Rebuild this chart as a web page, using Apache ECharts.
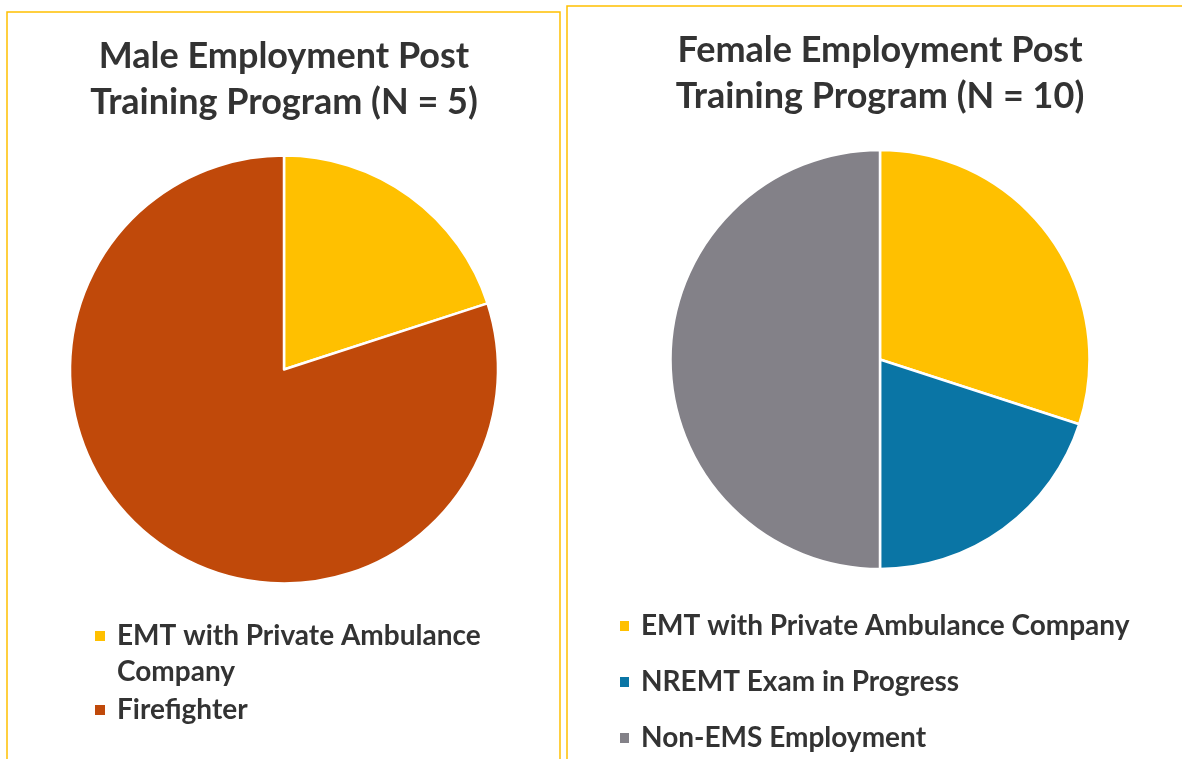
<!DOCTYPE html>
<html>
<head>
<meta charset="utf-8">
<script src="https://cdn.jsdelivr.net/npm/echarts@6/dist/echarts.min.js"></script>
<style>
  html, body { margin: 0; padding: 0; background: #fff; }
  #chart { width: 1182px; height: 759px; }
</style>
</head>
<body>
<div id="chart"></div>
<script>
var maleCategories = ["EMT with Private Ambulance Company", "Firefighter"];
var maleValues = [1, 4];
var maleColors = ["#FFC000", "#C0490A"];

var femaleCategories = ["EMT with Private Ambulance Company", "NREMT Exam in Progress", "Non-EMS Employment"];
var femaleValues = [3, 2, 5];
var femaleColors = ["#FFC000", "#0A75A5", "#838188"];

var titles = ["Male Employment Post\nTraining Program (N = 5)", "Female Employment Post\nTraining Program (N = 10)"];

var myChart = echarts.init(document.getElementById("chart"));

function toData(names, values, colors) {
  return names.map(function (n, i) {
    return { name: n, value: values[i], itemStyle: { color: colors[i] } };
  });
}

var font = "Lato";
var textColor = "#333333";

var option = {
  animation: false,
  graphic: [
    { type: "rect", shape: { x: 7, y: 12, width: 553, height: 780 }, style: { fill: null, stroke: "#FFC000", lineWidth: 1.5 } },
    { type: "rect", shape: { x: 567, y: 6, width: 640, height: 780 }, style: { fill: null, stroke: "#FFC000", lineWidth: 1.5 } }
  ],
  title: [
    {
      text: titles[0], left: 279, top: 28, textAlign: "center",
      textStyle: { fontFamily: font, fontWeight: "bold", fontSize: 36, lineHeight: 46, color: textColor }
    },
    {
      text: titles[1], left: 875, top: 22, textAlign: "center",
      textStyle: { fontFamily: font, fontWeight: "bold", fontSize: 36, lineHeight: 46, color: textColor }
    }
  ],
  legend: [
    {
      // leading blank line keeps the marker beside the first text line
      data: [maleCategories[0]], left: 88, top: 577, icon: "rect", itemWidth: 12, itemHeight: 12,
      formatter: function (n) { return "\n" + n.replace(" Company", "\nCompany"); },
      textStyle: { fontFamily: font, fontWeight: "bold", fontSize: 28, lineHeight: 36, color: textColor, padding: [0, 0, 0, 6] }
    },
    {
      data: [maleCategories[1]], left: 88, top: 687, icon: "rect", itemWidth: 12, itemHeight: 12,
      textStyle: { fontFamily: font, fontWeight: "bold", fontSize: 28, lineHeight: 36, color: textColor, padding: [0, 0, 0, 6] }
    },
    {
      data: femaleCategories, left: 613, top: 606, orient: "vertical", icon: "rect", itemWidth: 11, itemHeight: 12, itemGap: 26,
      textStyle: { fontFamily: font, fontWeight: "bold", fontSize: 28, lineHeight: 30, color: textColor, padding: [0, 0, 0, 6] }
    }
  ],
  series: [
    {
      type: "pie", center: [284, 369.5], radius: 214, startAngle: 90, clockwise: true,
      label: { show: false }, labelLine: { show: false }, emphasis: { disabled: true },
      itemStyle: { borderColor: "#fff", borderWidth: 2.5 },
      data: toData(maleCategories, maleValues, maleColors)
    },
    {
      type: "pie", center: [880, 359.5], radius: 209.5, startAngle: 90, clockwise: true,
      label: { show: false }, labelLine: { show: false }, emphasis: { disabled: true },
      itemStyle: { borderColor: "#fff", borderWidth: 2.5 },
      data: toData(femaleCategories, femaleValues, femaleColors)
    }
  ]
};

option && myChart.setOption(option);
</script>
</body>
</html>
